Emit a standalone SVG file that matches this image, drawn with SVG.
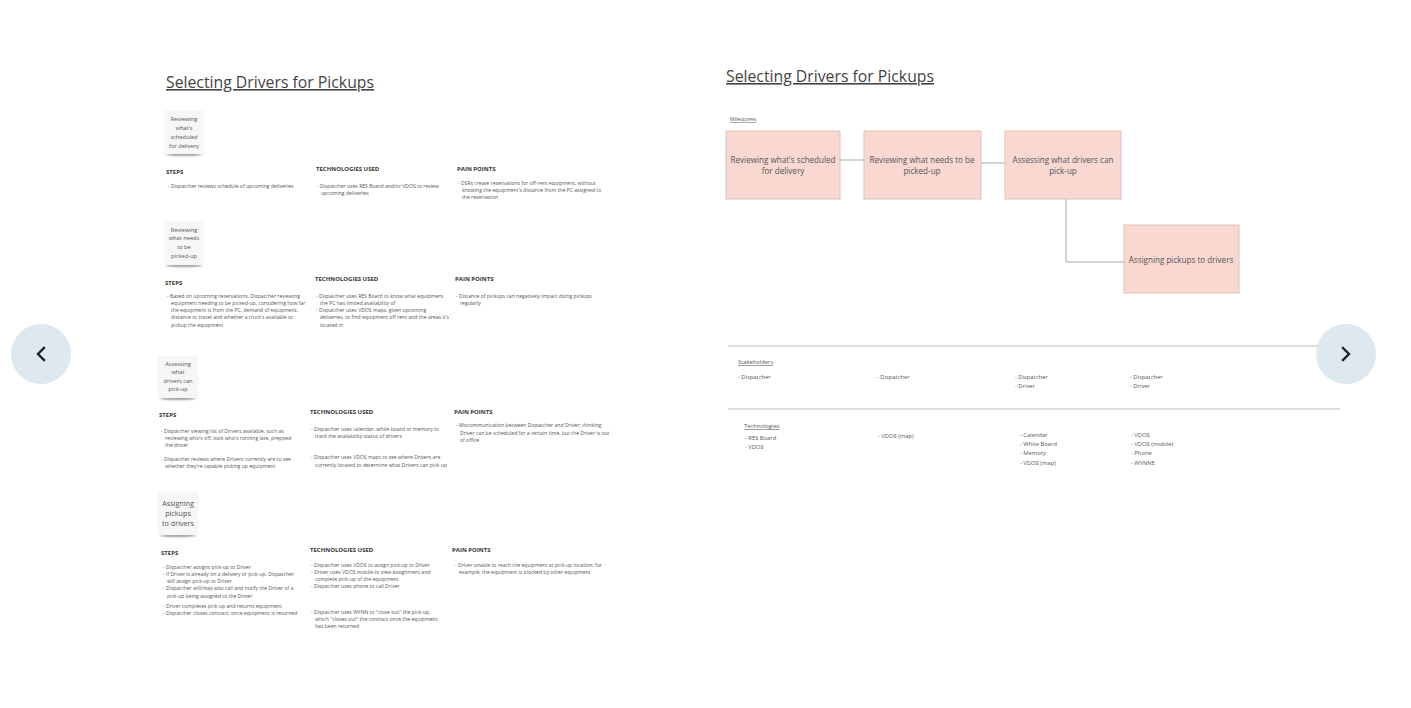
<svg xmlns="http://www.w3.org/2000/svg" width="1411" height="708" viewBox="0 0 1411 708">
<defs>
<filter id="blur" x="-50%" y="-200%" width="200%" height="500%"><feGaussianBlur stdDeviation="1.2"/></filter>
<filter id="soft" x="-20%" y="-20%" width="140%" height="140%"><feGaussianBlur stdDeviation="0.8"/></filter>
</defs>
<style>
text{font-family:"Open Sans","Liberation Sans",sans-serif;fill:#555}
.title{font-size:16px;fill:#444;text-decoration:underline}
.h{font-size:6px;font-weight:bold;fill:#333}
.b{font-size:5.1px}
.st{font-size:5.7px;fill:#555;text-anchor:middle}
.ms{fill:#f9d8d1;stroke:#e2c1ba;stroke-width:1}
.mt{font-size:8.1px;fill:#555;text-anchor:middle}
.sm{font-size:5.8px;fill:#555}
.u{text-decoration:underline}
.con{fill:none;stroke:#a9a9a9;stroke-width:1}
.rule{stroke:#d0d0d0;stroke-width:1.6}
.nav{fill:#dde8ef}
.chev{fill:none;stroke:#222;stroke-width:2.4;stroke-linecap:square}
.sticky{fill:#f6f6f6}
.shadow{fill:#444;filter:url(#blur)}
</style>
<rect width="1411" height="708" fill="#ffffff"/>

<g id="nav-left"><circle class="nav" cx="41" cy="354" r="30"/><path class="chev" d="M44,348 L38,354 L44,360"/></g>
<g id="nav-right"><circle class="nav" cx="1346" cy="354" r="30"/><path class="chev" d="M1343,348 L1349,354 L1343,360"/></g>

<!-- LEFT PAGE -->
<g id="left-title"><text class="title" x="166" y="88" textLength="208" lengthAdjust="spacingAndGlyphs">Selecting Drivers for Pickups</text></g>

<g id="sticky-1">
<ellipse class="shadow" cx="184" cy="154" rx="18" ry="1.3"/>
<rect class="sticky" x="164" y="111" width="40" height="43" filter="url(#soft)"/>
<rect class="sticky" x="164" y="111" width="40" height="43"/>
<text class="st" x="184" y="121">Reviewing</text>
<text class="st" x="184" y="130">what's</text>
<text class="st" x="184" y="139">scheduled</text>
<text class="st" x="184" y="148">for delivery</text>
</g>
<g id="section-1">
<text class="h" x="166" y="174">STEPS</text>
<text class="b" x="168" y="188">-  Dispatcher reviews schedule of upcoming deliveries</text>
<text class="h" x="316" y="171">TECHNOLOGIES USED</text>
<text class="b" x="317" y="188">-  Dispatcher uses RES Board and/or VDOS to review</text>
<text class="b" x="321" y="195">upcoming deliveries</text>
<text class="h" x="457" y="171">PAIN POINTS</text>
<text class="b" x="458" y="185">-  DSRs create reservations for off-rent equipment, without</text>
<text class="b" x="462" y="192">knowing the equipment's distance from the PC assigned to</text>
<text class="b" x="462" y="199">the reservation</text>
</g>

<g id="sticky-2">
<ellipse class="shadow" cx="184" cy="265" rx="18" ry="1.3"/>
<rect class="sticky" x="164" y="222" width="40" height="43" filter="url(#soft)"/>
<rect class="sticky" x="164" y="222" width="40" height="43"/>
<text class="st" x="184" y="232">Reviewing</text>
<text class="st" x="184" y="240">what needs</text>
<text class="st" x="184" y="249">to be</text>
<text class="st" x="184" y="258">picked-up</text>
</g>
<g id="section-2">
<text class="h" x="165" y="285">STEPS</text>
<text class="b" x="167" y="298">-  Based on upcoming reservations, Dispatcher reviewing</text>
<text class="b" x="171" y="305">equipment needing to be picked-up, considering how far</text>
<text class="b" x="171" y="312">the equipment is from the PC, demand of equipment,</text>
<text class="b" x="171" y="319">distance to travel and whether a truck's available to</text>
<text class="b" x="171" y="327">pickup the equipment</text>
<text class="h" x="315" y="281">TECHNOLOGIES USED</text>
<text class="b" x="316" y="298">-  Dispatcher uses RES Board to know what equipment</text>
<text class="b" x="320" y="305">the PC has limited availability of</text>
<text class="b" x="316" y="312">-  Dispatcher uses VDOS maps, given upcoming</text>
<text class="b" x="320" y="319">deliveries, to find equipment off rent and the areas it's</text>
<text class="b" x="320" y="327">located in</text>
<text class="h" x="455" y="281">PAIN POINTS</text>
<text class="b" x="456" y="298">-  Distance of pickups can negatively impact doing pickups</text>
<text class="b" x="460" y="305">regularly</text>
</g>

<g id="sticky-3">
<ellipse class="shadow" cx="178" cy="398" rx="18" ry="1.3"/>
<rect class="sticky" x="158" y="356" width="40" height="42" filter="url(#soft)"/>
<rect class="sticky" x="158" y="356" width="40" height="42"/>
<text class="st" x="178" y="366">Assessing</text>
<text class="st" x="178" y="374">what</text>
<text class="st" x="178" y="383">drivers can</text>
<text class="st" x="178" y="391">pick-up</text>
</g>
<g id="section-3">
<text class="h" x="159" y="417">STEPS</text>
<text class="b" x="161" y="433">-  Dispatcher viewing list of Drivers available, such as</text>
<text class="b" x="165" y="440">reviewing who's off, look who's running late, prepped</text>
<text class="b" x="165" y="447">the driver</text>
<text class="b" x="161" y="461">-  Dispatcher reviews where Drivers currently are to see</text>
<text class="b" x="165" y="468">whether they're capable picking up equipment</text>
<text class="h" x="310" y="414">TECHNOLOGIES USED</text>
<text class="b" x="311" y="431">-  Dispatcher uses calendar, white board or memory to</text>
<text class="b" x="315" y="438">track the availability status of drivers</text>
<text class="b" x="311" y="459">-  Dispatcher uses VDOS maps to see where Drivers are</text>
<text class="b" x="315" y="467">currently located to determine what Drivers can pick-up</text>
<text class="h" x="454" y="414">PAIN POINTS</text>
<text class="b" x="456" y="427">-  Miscommunication between Dispatcher and Driver; thinking</text>
<text class="b" x="460" y="435">Driver can be scheduled for a certain time, but the Driver is out</text>
<text class="b" x="460" y="442">of office</text>
</g>

<g id="sticky-4">
<ellipse class="shadow" cx="178" cy="535" rx="18" ry="1.3"/>
<rect class="sticky" x="158" y="493" width="40" height="42" filter="url(#soft)"/>
<rect class="sticky" x="158" y="493" width="40" height="42"/>
<text class="st" x="178" y="506" style="font-size:7.2px">Assigning</text>
<text class="st" x="178" y="516" style="font-size:7.2px">pickups</text>
<text class="st" x="178" y="526" style="font-size:7.2px">to drivers</text>
</g>
<g id="section-4">
<text class="h" x="161" y="555">STEPS</text>
<text class="b" x="163" y="569">-  Dispatcher assigns pick-up to Driver</text>
<text class="b" x="163" y="576">-  If Driver is already on a delivery or pick-up, Dispatcher</text>
<text class="b" x="167" y="583">will assign pick-up to Driver</text>
<text class="b" x="163" y="590">-  Dispatcher will/may also call and notify the Driver of a</text>
<text class="b" x="167" y="598">pick-up being assigned to the Driver</text>
<text class="b" x="163" y="608">-  Driver completes pick-up and returns equipment</text>
<text class="b" x="163" y="615">-  Dispatcher closes contract, once equipment is returned</text>
<text class="h" x="310" y="552">TECHNOLOGIES USED</text>
<text class="b" x="311" y="567">-  Dispatcher uses VDOS to assign pick-up to Driver</text>
<text class="b" x="311" y="574">-  Driver uses VDOS mobile to view assignment and</text>
<text class="b" x="315" y="581">complete pick-up of the equipment</text>
<text class="b" x="311" y="588">-  Dispatcher uses phone to call Driver</text>
<text class="b" x="311" y="614">-  Dispatcher uses WYNN to "close out" the pick-up,</text>
<text class="b" x="315" y="621">which "closes out" the contract once the equipment</text>
<text class="b" x="315" y="628">has been returned</text>
<text class="h" x="452" y="552">PAIN POINTS</text>
<text class="b" x="455" y="567">-  Driver unable to reach the equipment at pick-up location; for</text>
<text class="b" x="459" y="574">example, the equipment is blocked by other equipment</text>
</g>

<!-- RIGHT PAGE -->
<g id="right-title"><text class="title" x="726" y="82" textLength="208" lengthAdjust="spacingAndGlyphs">Selecting Drivers for Pickups</text></g>
<g id="milestones-label"><text class="sm u" x="730" y="121" style="font-size:5.2px">Milestones</text></g>

<g id="connectors">
<path class="con" d="M840,160 H864"/>
<path class="con" d="M981,163 H1005"/>
<path class="con" d="M1066,199 V262 H1124"/>
</g>

<g id="milestone-1">
<rect class="ms" x="726" y="131" width="114" height="68"/>
<text class="mt" x="783" y="163">Reviewing what's scheduled</text>
<text class="mt" x="783" y="174">for delivery</text>
</g>
<g id="milestone-2">
<rect class="ms" x="864" y="131" width="117" height="68"/>
<text class="mt" x="922" y="163">Reviewing what needs to be</text>
<text class="mt" x="922" y="174">picked-up</text>
</g>
<g id="milestone-3">
<rect class="ms" x="1005" y="131" width="116" height="68"/>
<text class="mt" x="1063" y="163">Assessing what drivers can</text>
<text class="mt" x="1063" y="174">pick-up</text>
</g>
<g id="milestone-4">
<rect class="ms" x="1124" y="225" width="115" height="68"/>
<text class="mt" x="1181" y="263">Assigning pickups to drivers</text>
</g>

<g id="rules">
<line class="rule" x1="728" y1="346" x2="1318" y2="346"/>
<line class="rule" x1="728" y1="409" x2="1340" y2="409"/>
</g>

<g id="stakeholders">
<text class="sm u" x="738" y="364">Stakeholders</text>
<text class="sm" x="738" y="379">-  Dispatcher</text>
<text class="sm" x="877" y="379">-  Dispatcher</text>
<text class="sm" x="1015" y="379">-  Dispatcher</text>
<text class="sm" x="1015" y="388">-  Driver</text>
<text class="sm" x="1130" y="379">-  Dispatcher</text>
<text class="sm" x="1130" y="388">-  Driver</text>
</g>

<g id="technologies">
<text class="sm u" x="744" y="428">Technologies</text>
<text class="sm" x="745" y="440">-  RES Board</text>
<text class="sm" x="745" y="449">-  VDOS</text>
<text class="sm" x="878" y="438">-  VDOS (map)</text>
<text class="sm" x="1020" y="437">-  Calendar</text>
<text class="sm" x="1020" y="446">-  White Board</text>
<text class="sm" x="1020" y="455">-  Memory</text>
<text class="sm" x="1020" y="465">-  VDOS (map)</text>
<text class="sm" x="1131" y="437">-  VDOS</text>
<text class="sm" x="1131" y="446">-  VDOS (mobile)</text>
<text class="sm" x="1131" y="455">-  Phone</text>
<text class="sm" x="1131" y="465">-  WYNNE</text>
</g>
</svg>
